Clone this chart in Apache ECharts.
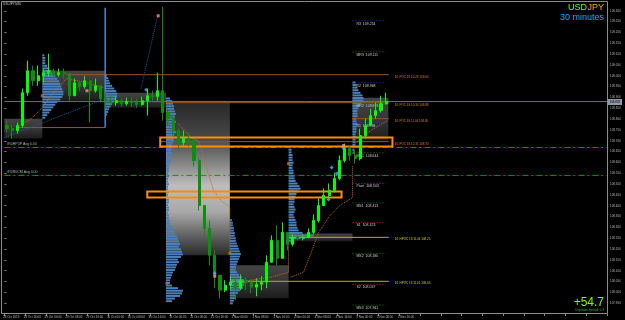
<!DOCTYPE html>
<html>
<head>
<meta charset="utf-8">
<script src="https://cdn.jsdelivr.net/npm/echarts@6/dist/echarts.min.js"></script>
<style>
  html, body { margin: 0; background: #000; }
  #chart { width: 625px; height: 320px; }
</style>
</head>
<body>
<div id="chart"></div>
<script>
// USDJPY, bars grouped by 2 hours, open of a bar = close of the bar before
const firstOpen = 108.770;
const closes = [108.756,108.747,108.770,108.922,109.023,108.977,109.000,109.014,109.023,109.005,
  109.014,109.010,108.908,108.968,108.950,108.977,108.931,108.954,108.894,108.885,
  108.876,108.885,108.871,108.881,108.876,108.867,108.885,108.908,108.904,108.931,
  108.830,108.802,108.747,108.692,108.710,108.701,108.609,108.401,108.295,108.171,
  108.079,108.010,108.033,108.047,108.019,108.056,108.047,108.024,108.037,108.047,
  108.139,108.240,108.157,108.277,108.222,108.254,108.249,108.254,108.277,108.332,
  108.401,108.447,108.471,108.526,108.609,108.664,108.632,108.618,108.724,108.770,
  108.816,108.839,108.871,108.881];
const highs = [108.793,108.775,108.784,108.941,109.070,109.047,109.047,109.033,109.102,109.033,
  109.033,109.033,109.014,108.987,108.977,109.000,108.977,108.987,108.954,108.918,
  108.908,108.904,108.894,108.899,108.899,108.894,108.904,108.941,108.931,109.014,
  109.318,108.848,108.816,108.756,108.747,108.738,108.710,108.618,108.346,108.332,
  108.194,108.079,108.056,108.074,108.065,108.083,108.070,108.060,108.065,108.074,
  108.171,108.263,108.309,108.323,108.277,108.268,108.263,108.268,108.295,108.360,
  108.434,108.480,108.503,108.553,108.632,108.687,108.678,108.655,108.756,108.802,
  108.848,108.876,108.908,108.922];
const lows = [108.738,108.710,108.733,108.761,108.908,108.954,108.954,108.968,108.996,108.987,
  108.996,108.987,108.885,108.922,108.931,108.941,108.784,108.922,108.876,108.848,
  108.858,108.862,108.858,108.862,108.858,108.853,108.862,108.816,108.885,108.885,
  108.793,108.770,108.724,108.655,108.678,108.673,108.581,108.378,108.263,108.125,
  108.019,107.973,108.001,108.010,107.964,108.010,108.010,107.996,107.982,108.010,
  108.019,108.139,108.125,108.217,108.194,108.212,108.240,108.240,108.249,108.268,
  108.323,108.415,108.434,108.461,108.517,108.600,108.609,108.595,108.609,108.710,
  108.770,108.802,108.830,108.867];
const bidPrice = 108.881;

// slots on the time axis (empty right part = chart shift) and the date labels, one every 4 bars
const barCount = 116;
const dateLabels = ['28 Oct 2019','28 Oct 16:00','29 Oct 00:00','29 Oct 08:00','29 Oct 16:00',
  '30 Oct 00:00','30 Oct 08:00','30 Oct 16:00','31 Oct 00:00','31 Oct 08:00','31 Oct 16:00',
  '1 Nov 00:00','1 Nov 08:00','1 Nov 16:00','4 Nov 00:00','4 Nov 08:00','4 Nov 16:00',
  '5 Nov 00:00','5 Nov 08:00','5 Nov 16:00'];

// market profile sessions (x in bar units)
const sessionStart = [7.3, 19.4, 31.1, 43.4, 54.7, 67.0];
const profileTop = [109.093, 109.000, 108.894, 108.332, 108.669, 108.968];
const profileStep = 0.012;
const profileVolumes = [
  [2,3,3,3,5,7,9,11,13,15,17,18,19,20,21,21,20,18,15,13,11,9,7,5,3],
  [2,3,4,5,7,9,11,12,12,11,9,7,5,4,3,2],
  [4,6,7,8,8, 9,10,9,8,10,9,8,9,10,8,7,8,7, 6,6,5,6,5,4,5,4,3,3,
   3,2,3,2,2,3,2,2,3,2,2,3,3,2,3,3,2,3,3,4,4,5,6,
   8,9,11,12,13,14,13,15,16,17,15, 12,13,11,10,9, 7,6,5,4,4,6, 12,17,16,14,9,6],
  [2,3,3,4,4,5,5,6,6,7,8,9,10,11,10,9,8,7,6,6,7,9,12,14,15,14,13,10,8,6,5,4,3],
  [2,3,3,4,4,4,5,4,4,5,5,6,6,7,9,11,12,10,8,7,6,6,5,6,7,6,5,6,7,8,8,9,10,14,25,12,5],
  [3,4,5,6,8,10,11,11,9,7,6,5,5,5,4,4,5,4,4,4,3,4,3,3,3,2,2,2]
];

// value area boxes
const vaStart = [0, 7.3, 19.4, 31.1, 43.4, 54.7, 67.0];
const vaEnd   = [7.3, 19.4, 31.1, 43.4, 54.7, 67.0, 73.9];
const vaHigh  = [108.802, 109.023, 108.922, 108.885, 108.125, 108.272, 108.899];
const vaLow   = [108.710, 108.885, 108.853, 108.171, 107.973, 108.236, 108.701];

// zones (orange boxes)
const zoneStart = [30.0, 27.5];
const zoneEnd   = [74.7, 64.9];
const zoneHigh  = [108.715, 108.466];
const zoneLow   = [108.673, 108.438];

// naked POC lines
const pocStart = [11.9, 31.1, 67.0, 30.0, 54.7, 43.4, 2.7];
const pocEnd   = [74.0, 74.0, 74.0, 74.0, 74.0, 74.0, 19.4];
const pocPrice = [109.005, 108.876, 108.802, 108.696, 108.254, 108.051, 108.761];
const pocName  = ['D1 POC 19.10.29', 'D1 POC 19.10.30', 'D1 POC 19.11.04', 'D1 POC 19.10.31',
  'D1 HPOC 19.11.04', 'D1 HPOC 19.11.01', ''];

// daily pivots
const pivotName  = ['R3','MR3','R2','MR2','R1','MR1','Pivot','MS1','S1','MS2','S2','MS3'];
const pivotPrice = [109.254,109.111,108.968,108.876,108.784,108.644,108.503,108.413,108.323,108.180,108.037,107.941];
const pivotFrom = 67.0, pivotTo = 73.4;

// average lines
const avgName  = ['#R0HP0P Avg 0.00', '#R0R0CM Avg 0.00'];
const avgPrice = [108.669, 108.540];

// dotted developing lines [bar, price]
const devLines = [
  [[2.9,108.770],[5.2,108.802],[7.1,108.848],[9.0,108.908],[11.9,108.987],[15.8,108.968],[19.2,108.945]],
  [[33.4,108.779],[34.4,108.756],[35.9,108.715],[37.3,108.701],[38.2,108.641],[39.2,108.549],[40.3,108.471],[41.7,108.424],[43.0,108.401],[43.4,108.392],[43.4,108.180]],
  [[44.2,108.033],[47.4,108.056],[51.3,108.070],[54.7,108.093],[54.7,108.240]],
  [[55.1,108.070],[57.6,108.093],[59.0,108.180],[60.5,108.277],[62.5,108.350],[64.5,108.400],[67.0,108.438],[67.0,108.586]],
  [[67.6,108.687],[70.5,108.747],[73.7,108.793]]
];
const trendLines = [
  [[0,108.715],[19.4,108.894]],
  [[26.3,108.941],[29.6,109.286]]
];
const sessionMark = [[19.4,109.314],[19.4,108.761]];

// signal markers
const markPink = [[29.6,109.277],[15.9,108.931],[36.9,108.429],[40.5,108.074],[65.3,108.678]];
const markBlue = [[27.3,108.936],[40.5,108.088],[62.4,108.429],[63.0,108.577],[64.0,108.549],[65.3,108.664]];
const markPoc  = [[7.3,108.908],[43.4,108.180],[31.3,108.042],[54.7,108.595]];

const categories = [];
for (let i = 0; i < barCount; i++) {
  categories.push(i % 4 === 0 && dateLabels[i / 4] ? dateLabels[i / 4] : '');
}
const candles = closes.map((c, i) => {
  const o = i === 0 ? firstOpen : closes[i - 1];
  return [o, c, Math.min(lows[i], o, c), Math.max(highs[i], o, c)];
});
const profileRows = [];
profileVolumes.forEach((vols, p) => {
  vols.forEach((v, r) => profileRows.push([sessionStart[p], profileTop[p] - r * profileStep, v]));
});

const tiny = '3px "Liberation Sans", Arial, sans-serif';
const small = '3.5px "Liberation Sans", Arial, sans-serif';

function pivotColor(name) {
  if (name === 'Pivot') return '#a020a0';
  if (name[0] === 'M') return '#1f7a1f';
  if (name[0] === 'R') return '#2536e0';
  return '#c82020';
}

// one straight line series per level
function levelLine(x0, x1, price, color, dash) {
  return {
    type: 'line', xAxisIndex: 1, data: [[x0, price], [x1, price]], symbol: 'none', z: 3, silent: true,
    lineStyle: { color: color, width: 1, type: dash || 'solid' }
  };
}

// text labels of the levels, placed relative to the level point by the library scales
function labelSeries(points, texts, colors, dx, dy, font) {
  return {
    type: 'custom', xAxisIndex: 1, z: 4, silent: true,
    data: points, encode: { x: 0, y: 1 },
    renderItem: (params, api) => {
      const p = api.coord([api.value(0), api.value(1)]);
      const i = params.dataIndex;
      return { type: 'text', x: p[0] + dx, y: Math.round(p[1]) + dy,
        style: { text: texts[i], fill: Array.isArray(colors) ? colors[i] : colors, font: font,
          textVerticalAlign: 'middle' } };
    }
  };
}

const brightFill = new echarts.graphic.LinearGradient(0, 0, 0, 1, [
  { offset: 0, color: '#262626' }, { offset: 0.25, color: '#4a4a4a' },
  { offset: 0.55, color: '#bdbdbd' }, { offset: 0.72, color: '#a8a8a8' },
  { offset: 0.9, color: '#555' }, { offset: 1, color: '#2a2a2a' }]);
const dimFill = new echarts.graphic.LinearGradient(0, 0, 0, 1, [
  { offset: 0, color: '#444' }, { offset: 0.5, color: '#363636' }, { offset: 1, color: '#1c1c1c' }]);

const isHpoc = pocName.map(n => n.indexOf('HPOC') >= 0);
const pocLabelled = pocName.map((n, i) => i).filter(i => pocName[i]);

const chart = echarts.init(document.getElementById('chart'));

const option = {
  backgroundColor: '#000',
  animation: false,
  grid: { left: 3, right: 18, top: -1, bottom: 6 },
  xAxis: [
    {
      type: 'category', data: categories, boundaryGap: true,
      axisLine: { show: false },
      axisTick: { show: true, interval: 3, length: 2, lineStyle: { color: '#8a8a8a' } },
      axisLabel: { interval: 3, color: '#b8b8b8', fontSize: 3, fontFamily: 'Liberation Sans', margin: 2,
        align: 'left', padding: [0, 0, 0, -4] },
      splitLine: { show: false }
    },
    { type: 'value', min: 0, max: barCount, show: false }
  ],
  yAxis: {
    type: 'value', position: 'right', min: 107.90, max: 109.35, interval: 0.05,
    axisLine: { show: false },
    axisTick: { show: true, length: 2, lineStyle: { color: '#8a8a8a' } },
    axisLabel: { color: '#b8b8b8', fontSize: 3, fontFamily: 'Liberation Sans', margin: 3,
      showMinLabel: false, showMaxLabel: false, formatter: v => v.toFixed(3) },
    splitLine: { show: false }
  },
  series: [
    {
      type: 'custom', name: 'value areas', xAxisIndex: 1, z: 1, silent: true,
      data: vaStart.map((s, i) => [s, vaEnd[i], vaHigh[i], vaLow[i]]),
      encode: { x: [0, 1], y: [2, 3] },
      renderItem: (params, api) => {
        const p0 = api.coord([api.value(0), api.value(2)]);
        const p1 = api.coord([api.value(1), api.value(3)]);
        return { type: 'rect', shape: { x: p0[0], y: p0[1], width: p1[0] - p0[0], height: p1[1] - p0[1] },
          style: { fill: params.dataIndex === 3 ? brightFill : dimFill } };
      }
    },
    {
      type: 'custom', name: 'profiles', xAxisIndex: 1, z: 2, silent: true,
      data: profileRows,
      encode: { x: 0, y: 1 },
      renderItem: (params, api) => {
        const t = api.coord([api.value(0), api.value(1) + profileStep / 2]);
        const b = api.coord([api.value(0), api.value(1) - profileStep / 2]);
        return { type: 'rect',
          shape: { x: t[0], y: t[1], width: api.value(2), height: Math.max(b[1] - t[1] - 0.6, 0.8) },
          style: { fill: '#4a80bc' } };
      }
    },
    ...pocPrice.map((p, i) => levelLine(pocStart[i], pocEnd[i], p, isHpoc[i] ? '#b4b400' : '#9a5522')),
    ...pivotPrice.map((p, i) => levelLine(pivotFrom, pivotTo, p, pivotColor(pivotName[i]), [1, 2])),
    ...avgPrice.map(p => levelLine(0, barCount, p, '#00a000', [6, 3, 2, 3])),
    levelLine(0, barCount, bidPrice, '#66717e'),
    labelSeries(pocLabelled.map(i => [pocEnd[i], pocPrice[i]]),
      pocLabelled.map(i => pocName[i] + ' ' + pocPrice[i].toFixed(2)),
      pocLabelled.map(i => isHpoc[i] ? '#d0d000' : '#e0801e'), 6, 2.5, tiny),
    labelSeries(pivotPrice.map(p => [pivotFrom, p]),
      pivotName.map((n, i) => n + '  ' + pivotPrice[i].toFixed(3)), '#c8c8c8', 4, 3, small),
    labelSeries(avgPrice.map(p => [0, p]), avgName, '#b0b0b0', 2, -2.5, small),
    {
      type: 'custom', name: 'bid tag', xAxisIndex: 1, z: 4, silent: true,
      data: [[barCount, bidPrice]], encode: { x: 0, y: 1 },
      renderItem: (params, api) => {
        const p = api.coord([api.value(0), api.value(1)]);
        const y = Math.round(p[1]);
        return { type: 'group', children: [
          { type: 'rect', shape: { x: p[0] + 1, y: y - 3, width: 14, height: 6 }, style: { fill: '#8d9aa8' } },
          { type: 'text', x: p[0] + 2.5, y: y, style: { text: bidPrice.toFixed(3), fill: '#000', font: tiny,
            textVerticalAlign: 'middle' } }] };
      }
    },
    {
      type: 'custom', name: 'zones', xAxisIndex: 1, z: 4, silent: true,
      data: zoneStart.map((s, i) => [s, zoneEnd[i], zoneHigh[i], zoneLow[i]]),
      encode: { x: [0, 1], y: [2, 3] },
      renderItem: (params, api) => {
        const p0 = api.coord([api.value(0), api.value(2)]);
        const p1 = api.coord([api.value(1), api.value(3)]);
        return { type: 'rect', shape: { x: p0[0], y: p0[1], width: p1[0] - p0[0], height: p1[1] - p0[1] },
          style: { fill: null, stroke: '#ff8c00', lineWidth: 2 } };
      }
    },
    ...devLines.map(d => ({
      type: 'line', xAxisIndex: 1, data: d, symbol: 'none', z: 3, silent: true,
      lineStyle: { type: 'dotted', width: 1, color: '#c8682a' }
    })),
    ...trendLines.map(d => ({
      type: 'line', xAxisIndex: 1, data: d, symbol: 'none', z: 3, silent: true,
      lineStyle: { type: 'dotted', width: 1, color: '#2a4fa8' }
    })),
    {
      type: 'line', xAxisIndex: 1, data: sessionMark, symbol: 'none', z: 3, silent: true,
      lineStyle: { width: 1.5, color: '#4a86c8' }
    },
    {
      type: 'candlestick', name: 'USDJPY', xAxisIndex: 0, data: candles, barWidth: '50%', z: 5,
      itemStyle: { color: '#00ff00', color0: '#0c900c', borderColor: '#00ff00', borderColor0: '#0c900c', borderWidth: 1 }
    },
    { type: 'scatter', xAxisIndex: 1, data: markPink, symbol: 'rect', symbolSize: 3, z: 6,
      itemStyle: { color: '#ff8f80' } },
    { type: 'scatter', xAxisIndex: 1, data: markBlue, symbol: 'diamond', symbolSize: 4, z: 6,
      itemStyle: { color: '#5aa8ff' } },
    { type: 'scatter', xAxisIndex: 1, data: markPoc, symbol: 'rect', symbolSize: 3, z: 6,
      itemStyle: { color: '#b87038' } }
  ],
  graphic: [
    { type: 'rect', shape: { x: 1.5, y: 1.5, width: 606, height: 312 }, silent: true, z: 100,
      style: { fill: null, stroke: '#8c8c8c', lineWidth: 1 } },
    { type: 'text', x: 3, y: 3, z: 100, style: { text: 'USDJPY,M30', fill: '#c8c8c8', font: tiny } },
    { type: 'text', x: 587, y: 3, z: 100, style: { text: 'USD', fill: '#7cfc00', textAlign: 'right',
      font: '9px "Liberation Sans", Arial, sans-serif' } },
    { type: 'text', x: 604, y: 3, z: 100, style: { text: 'JPY', fill: '#ffa500', textAlign: 'right',
      font: '9px "Liberation Sans", Arial, sans-serif' } },
    { type: 'text', x: 604, y: 13, z: 100, style: { text: '30 minutes', fill: '#00b4ff', textAlign: 'right',
      font: '9px "Liberation Sans", Arial, sans-serif' } },
    { type: 'text', x: 604, y: 297, z: 100, style: { text: '+54.7', fill: '#7cfc00', textAlign: 'right',
      font: '12px "Liberation Sans", Arial, sans-serif' } },
    { type: 'text', x: 604, y: 309, z: 100, style: { text: 'Daytrade Spread: 0.3', fill: '#32b032', textAlign: 'right',
      font: tiny } }
  ]
};

chart.setOption(option);
window.addEventListener('resize', function () {
  chart.resize();
});
</script>
</body>
</html>
